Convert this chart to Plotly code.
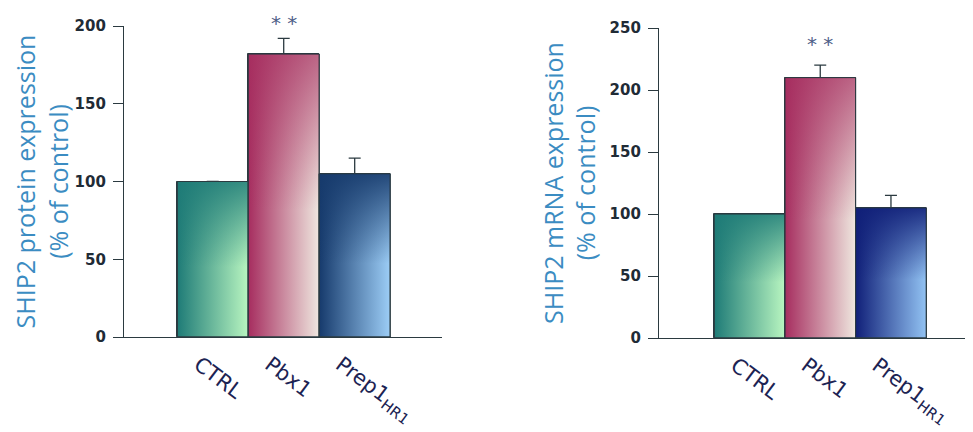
import plotly.graph_objects as go

# ---- data ----
categories = ["CTRL", "Pbx1", "Prep1<sub>HR1</sub>"]
protein_values = [100, 182, 105]
protein_errors = [0, 10, 10]
mrna_values = [100, 210, 105]
mrna_errors = [0, 10, 10]
protein_ticks = [0, 50, 100, 150, 200]
mrna_ticks = [0, 50, 100, 150, 200, 250]
significance = ["", "**", ""]

# ---- styles ----
grad = {
    "protein": [("#1e7b77", "#b8f5c0"), ("#a62d5f", "#efe7df"), ("#163a6c", "#9ccdf6")],
    "mrna": [("#1e7b77", "#b8f5c0"), ("#a62d5f", "#efe7df"), ("#101f78", "#92c3f3")],
}
top_dark = {
    "protein": [(30, 123, 119, 0.85), (166, 45, 95, 0.7), (22, 58, 108, 0.9)],
    "mrna": [(30, 123, 119, 0.85), (166, 45, 95, 0.7), (16, 31, 120, 0.9)],
}
outline = "#2b3a40"
tick_font = dict(family="DejaVu Sans", size=15, color="#1f2b36", weight="bold")
title_font = dict(family="Open Sans", size=25, color="#3b8cc2")
cat_font = dict(family="DejaVu Sans", size=21, color="#1c2353")
star_font = dict(family="DejaVu Sans", size=20, color="#4f6088")

fig = go.Figure()


def add_panel(values, errors, ticks, key, xa, ya, star_offset):
    mids = [g[0] for g in grad[key]]
    fig.add_trace(go.Bar(
        x=list(range(len(categories))), y=values, width=1,
        marker=dict(color=mids, line=dict(color=outline, width=1)),
        error_y=dict(type="data", symmetric=False, array=errors,
                     arrayminus=[0] * len(errors), color=outline,
                     thickness=1.3, width=6),
        xaxis=xa, yaxis=ya, showlegend=False, hoverinfo="skip",
    ))
    for i, v in enumerate(values):
        xs = [i - 0.5, i - 0.5, i + 0.5, i + 0.5, i - 0.5]
        ys = [0, v, v, 0, 0]
        c0, c1 = grad[key][i]
        fig.add_trace(go.Scatter(
            x=xs, y=ys, mode="lines", fill="toself",
            fillgradient=dict(type="horizontal", colorscale=[[0, c0], [1, c1]]),
            line=dict(color=outline, width=1),
            xaxis=xa, yaxis=ya, showlegend=False, hoverinfo="skip",
        ))
        r, g, b, a = top_dark[key][i]
        fig.add_trace(go.Scatter(
            x=xs, y=ys, mode="lines", fill="toself",
            fillgradient=dict(type="vertical", colorscale=[
                [0, f"rgba({r},{g},{b},0)"],
                [0.45, f"rgba({r},{g},{b},0)"],
                [1, f"rgba({r},{g},{b},{a})"]]),
            line=dict(color=outline, width=1),
            xaxis=xa, yaxis=ya, showlegend=False, hoverinfo="skip",
        ))
    for i, s in enumerate(significance):
        if s:
            fig.add_annotation(
                x=i, xref=xa,
                y=(values[i] + errors[i] + star_offset) / ticks[-1],
                yref=f"{ya} domain", yanchor="middle",
                text=" ".join(s), showarrow=False, font=star_font,
            )


add_panel(protein_values, protein_errors, protein_ticks, "protein", "x", "y", 10)
add_panel(mrna_values, mrna_errors, mrna_ticks, "mrna", "x2", "y2", 17)

# page body adds an 8px margin; the figure is sized/placed to compensate
W, H, OFF = 965, 424, 8


def fx(px):
    return (px - OFF) / W


def fy(py):
    return 1 - (py - OFF) / H


common_x = dict(
    tickmode="array", tickvals=list(range(len(categories))), ticktext=categories,
    tickangle=37, ticks="", showline=True, linecolor=outline, linewidth=1.2,
    showgrid=False, zeroline=False, tickfont=cat_font, automargin=False,
    ticklabelshift=-14, ticklabelstandoff=6,
)
common_y = dict(
    ticks="outside", ticklen=10, tickcolor=outline, tickwidth=1.2,
    showline=True, linecolor=outline, linewidth=1.2, showgrid=False,
    zeroline=False, tickfont=tick_font, automargin=False, ticklabelstandoff=4,
)

fig.update_layout(
    width=W, height=H, margin=dict(l=0, r=0, t=0, b=0),
    paper_bgcolor="white", plot_bgcolor="white", bargap=0,
    xaxis=dict(common_x, domain=[fx(124), fx(442)], range=[-1.25, 3.23], anchor="y"),
    yaxis=dict(common_y, domain=[fy(337), fy(26)], range=[0, protein_ticks[-1]],
               tickvals=protein_ticks, anchor="x",
               title=dict(text="SHIP2 protein expression<br>(% of control)",
                          font=title_font, standoff=6)),
    xaxis2=dict(common_x, domain=[fx(659), 1.0], range=[-1.28, 3.16], anchor="y2"),
    yaxis2=dict(common_y, domain=[fy(338), fy(28)], range=[0, mrna_ticks[-1]],
                tickvals=mrna_ticks, anchor="x2",
                title=dict(text="SHIP2 mRNA expression<br>(% of control)",
                           font=title_font, standoff=6)),
)

fig.write_html("out.html")
